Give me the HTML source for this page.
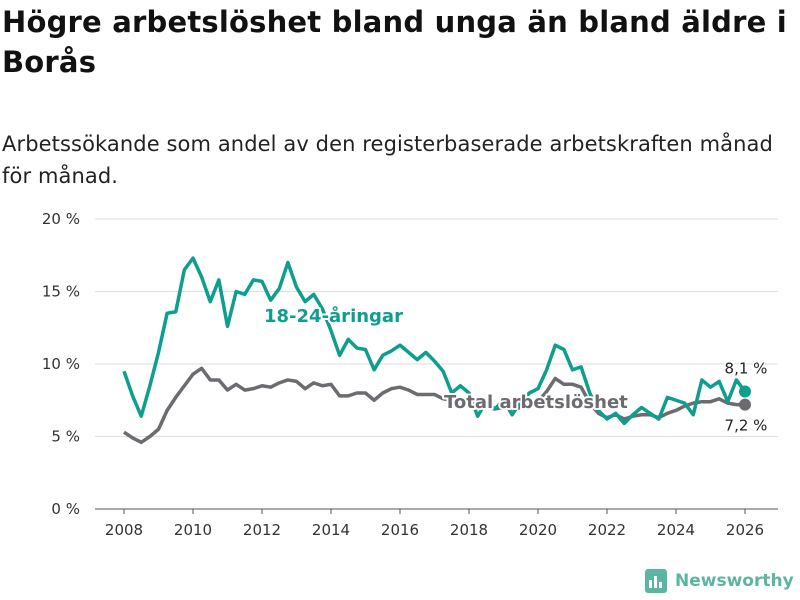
<!DOCTYPE html>
<html><head><meta charset="utf-8"><style>
body{margin:0;width:800px;height:600px;background:#fff;font-family:"Liberation Sans","DejaVu Sans",sans-serif;overflow:hidden;position:relative}
h1{position:absolute;left:2px;top:2px;margin:0;font-size:29px;line-height:40px;font-weight:bold;color:#111;width:795px;font-family:"DejaVu Sans",sans-serif;letter-spacing:0.2px}
p{position:absolute;left:2px;top:128px;margin:0;font-size:21px;line-height:32px;color:#222;width:796px;font-family:"DejaVu Sans",sans-serif;letter-spacing:0.1px}
svg{position:absolute;left:0;top:0}
</style></head><body>
<h1>Högre arbetslöshet bland unga än bland äldre i Borås</h1>
<p>Arbetssökande som andel av den registerbaserade arbetskraften månad för månad.</p>
<svg id="c" width="800" height="600"></svg>
<script>
const years=[];for(let i=0;i<=72;i++)years.push(2008+i/4);
const youth=[9.5,7.8,6.4,8.5,10.8,13.5,13.6,16.5,17.3,16.0,14.3,15.8,12.6,15.0,14.8,15.8,15.7,14.4,15.2,17.0,15.3,14.3,14.8,13.8,12.3,10.6,11.7,11.1,11.0,9.6,10.6,10.9,11.3,10.8,10.3,10.8,10.2,9.5,8.0,8.5,8.0,6.4,7.4,6.9,7.5,6.5,7.4,8.0,8.3,9.6,11.3,11.0,9.6,9.8,8.0,6.8,6.2,6.6,5.9,6.5,7.0,6.6,6.2,7.7,7.5,7.3,6.5,8.9,8.4,8.8,7.4,8.9,8.1];
const total=[5.3,4.9,4.6,5.0,5.5,6.8,7.7,8.5,9.3,9.7,8.9,8.9,8.2,8.6,8.2,8.3,8.5,8.4,8.7,8.9,8.8,8.3,8.7,8.5,8.6,7.8,7.8,8.0,8.0,7.5,8.0,8.3,8.4,8.2,7.9,7.9,7.9,7.6,7.5,7.3,7.2,7.0,7.0,6.9,7.0,6.9,7.0,7.3,7.4,8.1,9.0,8.6,8.6,8.4,7.3,6.6,6.3,6.5,6.2,6.4,6.5,6.5,6.3,6.6,6.8,7.1,7.3,7.4,7.4,7.6,7.3,7.2,7.2];
const yTicks=[0,5,10,15,20];
const xTicks=[2008,2010,2012,2014,2016,2018,2020,2022,2024,2026];
const X=v=>124+(v-2008)*34.5, Y=v=>509-v*14.5;
const s=document.getElementById('c'),NS='http://www.w3.org/2000/svg';
function el(t,a,txt){const e=document.createElementNS(NS,t);for(const k in a)e.setAttribute(k,a[k]);if(txt!=null)e.textContent=txt;s.appendChild(e);return e;}
yTicks.forEach(v=>{
 const g=el('line',{x1:95,x2:778,y1:Y(v),y2:Y(v),stroke:v===0?'#555':'#ddd','stroke-width':1});
 
 
 const t=el('text',{x:80,y:Y(v)+5,'text-anchor':'end','font-size':15,fill:'#333','font-family':'DejaVu Sans,sans-serif'},v+' %');
 
 
});
xTicks.forEach(v=>{
 const l=el('line',{x1:X(v),x2:X(v),y1:509,y2:514,stroke:'#555'});
 
 
 const t=el('text',{x:X(v),y:535,'text-anchor':'middle','font-size':15,fill:'#333','font-family':'DejaVu Sans,sans-serif'},v);
 
 
});
function line(d,c,n){
 const p=el('polyline',{points:d.map((v,i)=>X(years[i])+','+Y(v)).join(' '),fill:'none',stroke:c,'stroke-width':3.5,'stroke-linejoin':'round'});
 
 
 const k=d.length-1;
 const dot=el('circle',{cx:X(years[k]),cy:Y(d[k]),r:6,fill:c});
 
 
}
line(total,'#6d6b70','total-line');
line(youth,'#0e9e8e','youth-line');
function lab(x,y,txt,c,n,sz,anchor){
 const a={x:x,y:y,'font-size':sz,'font-weight':'bold',fill:c,'font-family':'DejaVu Sans,sans-serif','text-anchor':anchor||'start'};
 const h=el('text',Object.assign({},a,{stroke:'#fff','stroke-width':4,'stroke-linejoin':'round'}),txt);
 
 
 const t=el('text',a,txt);
 
 
}
lab(264,322,'18-24-åringar','#0e9e8e','youth-label',18);
lab(444,408,'Total arbetslöshet','#6d6b70','total-label',18);
const k=youth.length-1;
const a=el('text',{x:746,y:Y(youth[k])-18,'text-anchor':'middle','font-size':15,fill:'#222','font-family':'DejaVu Sans,sans-serif',stroke:'#fff','stroke-width':3,'paint-order':'stroke'},youth[k].toFixed(1).replace('.',',')+' %');


const b=el('text',{x:746,y:Y(total[k])+26,'text-anchor':'middle','font-size':15,fill:'#222','font-family':'DejaVu Sans,sans-serif',stroke:'#fff','stroke-width':3,'paint-order':'stroke'},total[k].toFixed(1).replace('.',',')+' %');


</script>
<div style="position:absolute;left:645px;top:569px;display:flex;align-items:center">
 <div style="width:22px;height:24px;background:#5bb5a2;border-radius:3px;position:relative;margin-right:8px">
  <div style="position:absolute;left:4px;bottom:5px;width:3px;height:8px;background:#fff"></div>
  <div style="position:absolute;left:9px;bottom:5px;width:3px;height:12px;background:#fff"></div>
  <div style="position:absolute;left:14px;bottom:5px;width:3px;height:6px;background:#fff"></div>
 </div>
 <span style="font-size:17px;font-weight:bold;color:#5bb5a2;font-family:'DejaVu Sans',sans-serif">Newsworthy</span>
</div>
</body></html>
